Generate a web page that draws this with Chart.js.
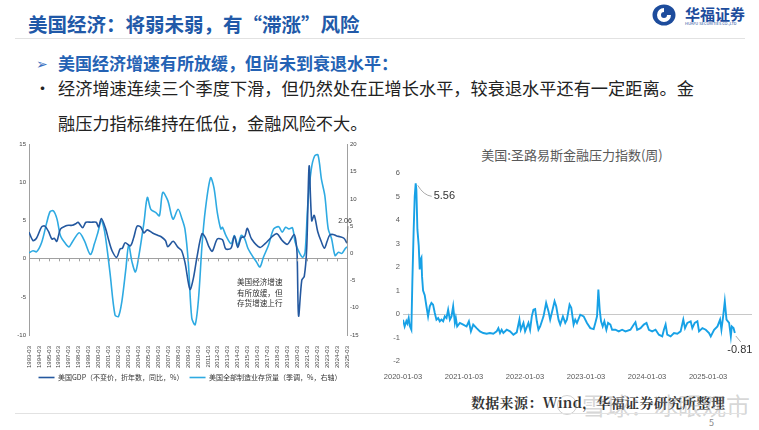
<!DOCTYPE html>
<html lang="zh-CN">
<head>
<meta charset="utf-8">
<script src="https://cdn.jsdelivr.net/npm/chart.js"></script>
<style>
  body { margin: 0; width: 759px; height: 430px; background: #fff; position: relative; overflow: hidden;
         font-family: "Noto Sans CJK SC", "Noto Sans", sans-serif; }
  .abs { position: absolute; white-space: nowrap; }
</style>
</head>
<body>
<div class="abs" style="left:28px;top:14px;font-size:19.5px;line-height:20px;font-weight:bold;color:#2159a8;">美国经济：将弱未弱，有“滞涨”风险</div>
<svg class="abs" style="left:652px;top:4px" width="24" height="22">
  <ellipse cx="12" cy="11" rx="11.5" ry="10.5" fill="#1d4c9c"/>
  <path d="M12 4 a7 7 0 1 0 7 7 h-4 a3 3 0 1 1 -3 -3 z" fill="#fff"/>
</svg>
<div class="abs" style="left:685px;top:6px;font-size:15px;line-height:16px;font-weight:bold;color:#1d4c9c;">华福证券</div>
<div class="abs" style="left:685px;top:21px;font-size:4px;line-height:5px;color:#1d4c9c;">HUAFU SECURITIES CO.,LTD</div>
<div class="abs" style="left:15px;top:38px;width:730px;height:1px;background:#e2e2e2;"></div>

<div class="abs" style="left:36px;top:53px;font-size:14px;line-height:20px;color:#3a6fc0;">➢</div>
<div class="abs" style="left:58px;top:53px;font-size:17px;line-height:20px;font-weight:bold;color:#2462b4;">美国经济增速有所放缓，但尚未到衰退水平：</div>
<div class="abs" style="left:34px;top:78px;font-size:17px;line-height:20px;color:#222;">•</div>
<div class="abs" style="left:58px;top:78px;font-size:17.2px;line-height:20px;color:#222;">经济增速连续三个季度下滑，但仍然处在正增长水平，较衰退水平还有一定距离。金</div>
<div class="abs" style="left:58px;top:113px;font-size:17.2px;line-height:20px;color:#222;">融压力指标维持在低位，金融风险不大。</div>

<div class="abs" style="left:0;top:138px;width:380px;height:257px;"><canvas id="left" width="380" height="257"></canvas></div>
<div class="abs" style="left:237px;top:277px;font-size:7.6px;line-height:10.5px;color:#333;white-space:pre;">美国经济增速
有所放缓，但
存货增速上行</div>

<div class="abs" style="left:472px;top:146px;width:200px;text-align:center;font-size:13px;line-height:18px;color:#595959;">美国:圣路易斯金融压力指数(周)</div>
<div class="abs" style="left:380px;top:140px;width:379px;height:243px;"><canvas id="right" width="379" height="243"></canvas></div>

<div class="abs" style="left:471px;top:393px;font-size:14px;line-height:18px;font-weight:bold;letter-spacing:0.3px;color:#333;font-family:'Noto Serif CJK SC','Noto Sans CJK SC',serif;">数据来源：Wind，华福证券研究所整理</div>
<div class="abs" style="left:557px;top:395px;width:18px;height:18px;border:1.5px solid rgba(150,150,150,0.45);border-radius:50%;"></div>
<div class="abs" style="left:582px;top:391px;font-size:24px;line-height:28px;color:rgba(150,150,150,0.4);">雪球：冰眼观市</div>
<div class="abs" style="left:15px;top:413px;width:730px;height:1px;background:#e2e2e2;"></div>
<div class="abs" style="left:709px;top:417px;font-size:9px;line-height:11px;color:#888;">5</div>

<script>
// left chart: quarterly-ish readings, x in decimal years (1993.0 = 1993-03)
const gdpT = [1993.0,1993.4,1993.75,1994.27,1994.6,1994.96,1995.3,1995.54,1995.8,1996.16,1996.67,1997.0,1997.36,1997.7,1997.94,
  1998.4,1998.73,1999.25,1999.76,2000.0,2000.28,2000.7,2001.03,2001.38,2001.82,2002.17,2002.4,2002.68,2003.2,2003.54,2003.88,
  2004.23,2004.57,2004.9,2005.43,2005.94,2006.3,2006.73,2006.97,2007.5,2008.0,2008.35,2008.7,2009.2,2009.55,2009.9,2010.4,
  2010.75,2011.1,2011.44,2011.95,2012.47,2012.8,2013.33,2013.67,2014.0,2014.36,2014.7,2014.97,2015.4,2016.25,2016.76,2017.45,
  2017.96,2018.48,2018.99,2019.33,2019.68,2019.85,2019.98,2020.13,2020.45,2020.7,2020.95,2021.19,2021.45,2021.7,2022.05,2022.4,
  2022.73,2023.0,2023.25,2023.6,2023.97,2024.3,2024.69,2025.0];
const gdpV = [3.5,2.4,2.7,4.2,4.3,3.6,2.6,2.7,2.3,3.9,4.3,4.4,4.4,4.6,4.8,
  4.1,4.8,4.8,4.8,4.2,5.3,4.0,2.4,1.0,0.2,1.3,1.4,2.1,1.7,2.8,4.3,
  4.2,3.4,3.8,3.4,3.1,2.9,2.4,1.6,2.3,1.5,1.1,-0.5,-4.0,-2.5,0.2,3.3,
  2.8,1.6,1.0,2.6,2.5,1.3,1.4,3.0,1.5,2.8,2.9,4.0,2.6,1.5,2.0,2.9,
  3.3,2.4,1.9,2.5,3.2,2.4,0.6,-7.5,-2.8,-2.3,1.5,12.2,5.0,5.7,3.6,2.3,
  1.4,2.3,3.1,3.2,3.0,2.9,2.7,2.06];

const invT = [1993.0,1993.41,1993.76,1994.27,1994.79,1995.13,1995.47,1995.82,1996.16,1996.67,1997.02,1997.36,1998.05,1998.56,
  1999.18,1999.59,1999.94,2000.28,2000.62,2001.14,2001.65,2002.0,2002.34,2002.75,2003.03,2003.37,2003.71,2004.06,2004.57,
  2004.91,2005.26,2005.77,2006.12,2006.46,2006.97,2007.49,2008.0,2008.35,2008.69,2009.03,2009.38,2009.72,2010.06,2010.41,
  2010.75,2011.27,2011.61,2011.95,2012.3,2012.47,2012.81,2013.33,2013.67,2014.01,2014.36,2014.7,2015.04,2015.56,2015.9,
  2016.24,2016.59,2017.1,2017.62,2018.13,2018.48,2018.82,2019.16,2019.51,2019.78,2020.19,2020.54,2020.78,2021.05,2021.4,
  2021.74,2022.08,2022.43,2022.77,2023.11,2023.45,2023.8,2024.14,2024.49,2024.83,2025.0];
const invV = [0.1,0.5,0.3,2.0,5.7,7.7,7.8,6.3,3.3,1.8,1.2,2.1,3.8,2.4,
  -0.2,1.8,3.9,6.0,3.9,-3.4,-11.3,-11.6,-8.9,-2.8,1.5,-1.6,-3.4,-0.4,5.7,
  10.3,8.1,7.5,6.9,11.2,9.7,6.3,8.1,6.6,4.5,-1.6,-11.9,-13.1,-8.3,1.5,
  8.1,13.9,12.1,7.5,4.5,4.8,3.3,1.8,3.3,1.5,3.3,2.7,0.9,-0.7,-1.6,
  -2.5,-0.7,1.5,4.5,4.9,3.9,4.8,4.5,4.7,2.1,0.2,-0.7,0.2,8.8,15.4,
  17.9,18.1,13.6,10.6,4.5,2.7,-0.4,0.2,0.0,0.9,1.2];

const gdpLabel = '美国GDP（不变价，折年数，同比，%）';
const invLabel = '美国全部制造业存货量（季调，%，右轴）';

// right chart: weekly St. Louis stress index, x = years since 2020-01-03
const stressT = [0,.027,.055,.071,.093,.11,.137,.154,.175,.192,.208,.219,.236,.258,.274,.285,.302,.312,.329,.356,.384,.411,
  .439,.466,.493,.521,.548,.576,.603,.63,.658,.685,.713,.74,.768,.795,.822,.85,.866,.888,.932,.987,1.042,1.08,1.113,1.151,
  1.206,1.261,1.316,1.371,1.425,1.48,1.535,1.563,1.59,1.617,1.645,1.7,1.754,1.809,1.864,1.908,1.93,1.974,2.001,2.056,2.083,
  2.111,2.138,2.166,2.193,2.22,2.248,2.303,2.346,2.385,2.412,2.451,2.484,2.511,2.549,2.577,2.621,2.659,2.686,2.73,2.758,
  2.796,2.823,2.851,2.906,2.961,3.015,3.07,3.125,3.152,3.18,3.202,3.224,3.246,3.273,3.3,3.333,3.361,3.399,3.427,3.481,
  3.536,3.591,3.646,3.728,3.783,3.81,3.838,3.893,3.947,3.991,4.03,4.084,4.139,4.194,4.249,4.276,4.304,4.331,4.386,4.441,
  4.496,4.55,4.594,4.622,4.66,4.715,4.742,4.781,4.825,4.852,4.907,4.962,5.016,5.044,5.099,5.154,5.197,5.219,5.247,5.274,
  5.302,5.345,5.373,5.389,5.417,5.439];
const stressV = [-0.24,-0.53,-0.3,-0.4,-0.17,-0.5,-0.67,1.46,3.6,5.0,5.56,5.3,3.6,2.9,1.9,2.3,2.4,1.6,1.0,0.8,0.33,-0.1,
  0.33,0.47,0.4,0.04,-0.24,-0.17,-0.31,-0.24,-0.31,-0.1,-0.17,0.18,-0.24,-0.1,0.33,-0.38,-0.17,-0.53,-0.38,-0.45,-0.53,-0.31,-0.74,-0.45,
  -0.6,-0.74,-0.81,-0.84,-0.81,-0.84,-0.74,-0.6,-0.81,-0.67,-0.81,-0.67,-0.74,-0.88,-0.78,-0.24,-0.67,-0.38,-0.74,-0.38,-0.67,
  -0.1,0.18,0.21,-0.31,-0.67,-0.53,-0.1,0.47,0.11,-0.24,0.18,0.54,0.33,-0.24,-0.45,-0.1,-0.38,-0.24,0.4,0.26,
  -0.45,-0.24,-0.38,-0.03,-0.1,-0.38,-0.6,-0.64,-0.38,-0.1,1.04,0.18,-0.31,-0.53,-0.31,-0.67,-0.38,-0.45,-0.67,-0.67,
  -0.74,-0.67,-0.74,-0.67,-0.45,-0.35,-0.67,-0.6,-0.45,-0.38,-0.67,-0.74,-0.67,-0.88,-0.95,-0.67,-0.45,-0.88,-0.95,-0.81,
  -0.84,-0.74,-0.24,-0.6,-0.38,-0.31,-0.6,-0.38,-0.31,-0.74,-0.6,-0.67,-0.81,-0.95,-0.67,-0.53,-0.24,-0.67,-0.1,0.54,
  -0.24,-0.38,-0.95,-0.53,-0.6,-0.81];

const tickFont = { family: 'Liberation Sans, Arial, sans-serif', size: 6 };

const leftMarks = {
  id: 'leftMarks',
  afterDatasetsDraw(chart) {
    const { ctx, scales } = chart;
    const x = scales.x, y0 = scales.y.getPixelForValue(0);
    ctx.save();
    ctx.strokeStyle = '#a0a0a0';
    ctx.lineWidth = 1;
    ctx.beginPath();
    for (let yr = 1993; yr <= 2025; yr++) {
      const px = Math.round(x.getPixelForValue(yr)) + 0.5;
      ctx.moveTo(px, y0); ctx.lineTo(px, y0 + 2.5);
    }
    ctx.stroke();
    // label for last GDP value
    const n = gdpT.length - 1;
    const px = x.getPixelForValue(gdpT[n]), py = scales.y.getPixelForValue(gdpV[n]);
    ctx.strokeStyle = '#777';
    ctx.beginPath();
    ctx.moveTo(px + 1, py - 17); ctx.lineTo(px, py);
    ctx.stroke();
    ctx.fillStyle = '#333';
    ctx.font = '7px Liberation Sans, Arial, sans-serif';
    ctx.textAlign = 'center';
    ctx.textBaseline = 'bottom';
    ctx.fillText(gdpV[n].toFixed(2), px - 2, py - 19);
    ctx.restore();
  }
};

new Chart(document.getElementById('left'), {
  type: 'line',
  data: {
    datasets: [
      { label: gdpLabel, data: gdpT.map((t, i) => ({ x: t, y: gdpV[i] })), yAxisID: 'y',
        borderColor: '#24589f', backgroundColor: '#24589f', borderWidth: 1.6, pointRadius: 0, tension: 0.3 },
      { label: invLabel, data: invT.map((t, i) => ({ x: t, y: invV[i] })), yAxisID: 'y2',
        borderColor: '#2eaae2', backgroundColor: '#2eaae2', borderWidth: 1.6, pointRadius: 0, tension: 0.3 }
    ]
  },
  options: {
    responsive: false,
    animation: false,
    layout: { padding: { top: 5, bottom: 4 } },
    plugins: {
      legend: { position: 'bottom',
        labels: { usePointStyle: true, pointStyle: 'line', pointStyleWidth: 16, padding: 6, color: '#333',
          font: { family: 'Noto Sans CJK SC, sans-serif', size: 7 } } },
      tooltip: { enabled: false }
    },
    scales: {
      x: { type: 'linear', min: 1993, max: 2025,
        ticks: { stepSize: 1, autoSkip: false, minRotation: 90, maxRotation: 90, color: '#444', font: tickFont,
          callback: v => v + '-03' },
        grid: { display: false }, border: { display: false },
        afterFit: s => { s.height = 33; } },
      y: { position: 'left', min: -10, max: 15,
        ticks: { stepSize: 5, color: '#444', font: tickFont },
        grid: { color: c => c.tick.value === 0 ? '#a0a0a0' : 'rgba(0,0,0,0)', drawTicks: false },
        border: { color: '#a0a0a0' },
        afterFit: s => { s.width = 29; } },
      y2: { position: 'right', min: -15, max: 20,
        ticks: { stepSize: 5, color: '#444', font: tickFont },
        grid: { display: false, drawTicks: false },
        border: { color: '#a0a0a0' },
        afterFit: s => { s.width = 33; } }
    }
  },
  plugins: [leftMarks]
});

const rightMarks = {
  id: 'rightMarks',
  afterDatasetsDraw(chart) {
    const { ctx, scales } = chart;
    const pk = stressV.indexOf(Math.max(...stressV));
    const last = stressV.length - 1;
    const p1x = scales.x.getPixelForValue(stressT[pk]), p1y = scales.y.getPixelForValue(stressV[pk]);
    const p2x = scales.x.getPixelForValue(stressT[last]), p2y = scales.y.getPixelForValue(stressV[last]);
    ctx.save();
    ctx.strokeStyle = '#aaa';
    ctx.lineWidth = 1;
    ctx.beginPath();
    ctx.moveTo(p1x + 2, p1y + 2);
    ctx.quadraticCurveTo(p1x + 8, p1y + 12, p1x + 16, p1y + 13);
    ctx.moveTo(p2x + 1, p2y + 3); ctx.lineTo(p2x + 6, p2y + 9);
    ctx.stroke();
    ctx.fillStyle = '#333';
    ctx.font = '11px Liberation Sans, Arial, sans-serif';
    ctx.textBaseline = 'middle';
    ctx.textAlign = 'left';
    ctx.fillText(stressV[pk].toFixed(2), p1x + 18, p1y + 13);
    ctx.textAlign = 'center';
    ctx.fillText(stressV[last].toFixed(2), p2x + 5, p2y + 17);
    ctx.restore();
  }
};

new Chart(document.getElementById('right'), {
  type: 'line',
  data: {
    datasets: [{ data: stressT.map((t, i) => ({ x: t, y: stressV[i] })),
      borderColor: '#17a1e6', borderWidth: 1.9, pointRadius: 0, tension: 0 }]
  },
  options: {
    responsive: false,
    animation: false,
    layout: { padding: { top: 33, right: 7 } },
    plugins: { legend: { display: false }, tooltip: { enabled: false } },
    scales: {
      x: { type: 'linear', min: 0, max: 5.72,
        ticks: { stepSize: 1, includeBounds: false, maxRotation: 0, color: '#595959',
          font: { family: 'Liberation Sans, Arial, sans-serif', size: 7.5 },
          callback: v => (2020 + v) + '-01-03' },
        grid: { display: false }, border: { display: false },
        afterFit: s => { s.height = 22; } },
      y: { min: -2, max: 6,
        ticks: { stepSize: 1, color: '#595959', font: { family: 'Liberation Sans, Arial, sans-serif', size: 7.5 } },
        grid: { color: c => c.tick.value === 0 ? '#c8c8c8' : 'rgba(0,0,0,0)', drawTicks: false },
        border: { display: false },
        afterFit: s => { s.width = 23; } }
    }
  },
  plugins: [rightMarks]
});
</script>
</body>
</html>
